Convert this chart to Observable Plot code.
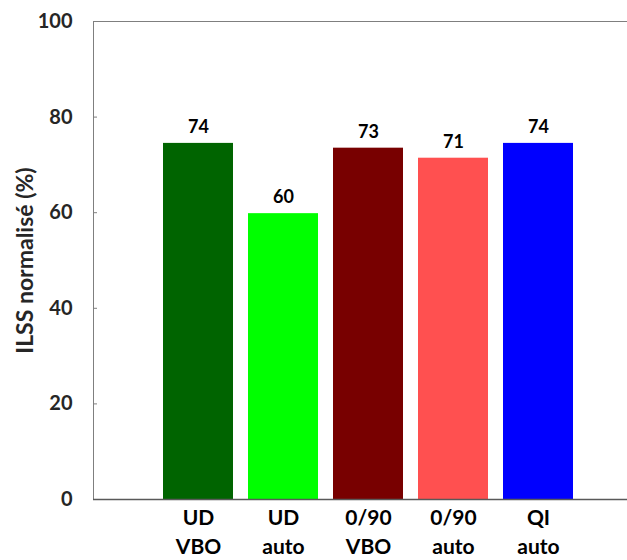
<!DOCTYPE html>
<html>
<head>
<meta charset="utf-8">
<script src="https://cdn.jsdelivr.net/npm/d3@7"></script>
<script src="https://cdn.jsdelivr.net/npm/@observablehq/plot@0.6"></script>
<style>
  html, body { margin: 0; padding: 0; background: #fff; overflow: hidden; }
</style>
</head>
<body>
<div id="chart"></div>
<script>
const categories = ["UD\nVBO", "UD\nauto", "0/90\nVBO", "0/90\nauto", "QI\nauto"];
const values = [74.5, 59.8, 73.5, 71.4, 74.5];
const labels = ["74", "60", "73", "71", "74"];
const colors = ["#006400", "#00ff00", "#780000", "#ff5050", "#0000ff"];
const yTicks = [0, 20, 40, 60, 80, 100];

const data = categories.map((c, i) => ({cat: c, value: values[i], label: labels[i], color: colors[i]}));

const chart = Plot.plot({
  width: 627,
  height: 560,
  marginLeft: 93,
  marginRight: 0,
  marginTop: 21,
  marginBottom: 61,
  style: {fontFamily: "Lato, 'Open Sans', sans-serif", fontWeight: "bold", background: "#fff"},
  x: {type: "band", domain: categories, paddingInner: 0.179, paddingOuter: 0.7215, align: 0.561},
  y: {domain: [0, 100]},
  marks: [
    Plot.barY(data, {x: "cat", y: "value", fill: "color"}),
    Plot.text(data, {x: "cat", y: "value", text: "label", dy: -16, fontSize: 18, fontWeight: "bold", fill: "#000"}),
    Plot.ruleY([100], {stroke: "#7f7f7f", strokeWidth: 1}),
    Plot.frame({anchor: "left", stroke: "#7f7f7f"}),
    Plot.axisY({ticks: yTicks, tickSize: -4, tickPadding: 25, fontSize: 20, color: "#262626", stroke: "#7f7f7f",
      label: "ILSS normalisé (%)", labelAnchor: "center", labelArrow: "none", labelOffset: 77}),
    Plot.axisX({tickSize: 0, tickPadding: 5, fontSize: 21, color: "#000", lineHeight: 1.38, label: null}),
    Plot.ruleY([0], {stroke: "#595959", strokeWidth: 1.5})
  ]
});
const svg = d3.select(chart);
svg.selectAll("[aria-label='y-axis tick label'] text, [aria-label='y-axis tick label']").attr("font-size", 20);
svg.selectAll("[aria-label='x-axis tick label'] text, [aria-label='x-axis tick label']").attr("font-size", 21);
svg.selectAll("[aria-label='y-axis label'] text, [aria-label='y-axis label']").attr("font-size", 23).attr("fill", "#262626");
svg.selectAll("[aria-label='text'] text, [aria-label='text']").attr("font-size", 18);
document.getElementById("chart").appendChild(chart);
</script>
</body>
</html>
